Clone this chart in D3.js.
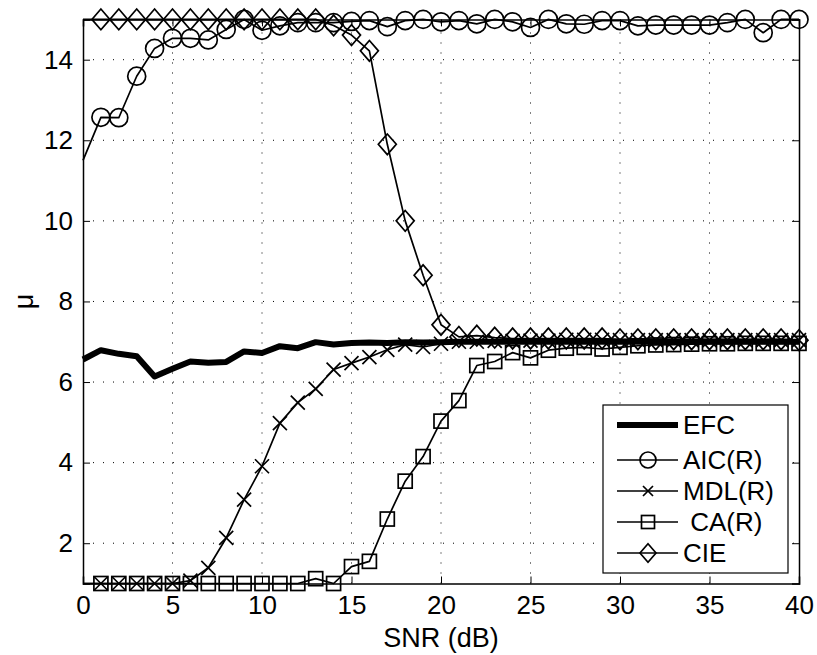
<!DOCTYPE html>
<html><head><meta charset="utf-8">
<script src="https://cdn.jsdelivr.net/npm/d3@7"></script>
<style>body{margin:0;background:#fff;} text{font-family:"Liberation Sans",Arial,sans-serif;}</style>
</head><body>
<svg id="c" width="817" height="655"></svg>
<script>
const snr = d3.range(0, 41);
const efc = [6.56,6.79,6.70,6.64,6.14,6.33,6.51,6.48,6.50,6.76,6.72,6.89,6.84,6.99,6.93,6.97,6.98,6.97,6.99,6.98,6.99,7.0,7.0,7.0,7.0,7.0,7.0,7.0,7.0,7.0,7.0,7.0,7.0,7.0,7.0,7.0,7.0,7.0,7.0,7.0,7.0];
const aic = [11.5,12.57,12.56,13.59,14.28,14.53,14.53,14.49,14.75,15.0,14.73,14.84,14.92,14.92,14.92,14.95,14.97,14.82,14.97,15.0,14.94,14.97,14.89,15.0,14.94,14.80,15.0,14.89,14.88,14.97,14.97,14.84,14.86,14.86,14.86,14.86,14.92,15.0,14.67,15.0,15.0];
const mdl = [1,1,1,1,1,1,1.07,1.39,2.13,3.08,3.91,4.98,5.49,5.83,6.31,6.47,6.62,6.80,6.93,6.87,6.95,7.0,7.0,7.02,7.02,7.03,7.03,7.05,7.05,7.05,7.04,7.04,7.04,7.04,7.04,7.04,7.04,7.04,7.04,7.04,7.04];
const ca = [1,1,1,1,1,1,1,1,1,1,1,1,1,1.12,1.0,1.42,1.55,2.6,3.54,4.15,5.03,5.54,6.41,6.51,6.73,6.6,6.79,6.84,6.86,6.82,6.86,6.9,6.92,6.93,6.94,6.95,6.95,6.96,6.96,6.96,6.96];
const cie = [15,15,15,15,15,15,15,15,15,15,15,15,15,15,14.85,14.61,14.22,11.9,10.0,8.65,7.42,7.12,7.15,7.1,7.08,7.08,7.08,7.08,7.08,7.08,7.06,7.06,7.06,7.06,7.06,7.06,7.06,7.06,7.06,7.06,7.04];
const xTicks = [0,5,10,15,20,25,30,35,40];
const yTicks = [2,4,6,8,10,12,14];
const legendLabels = ["EFC","AIC(R)","MDL(R)"," CA(R)","CIE"];

const svg = d3.select("#c");
const L = 83, R = 799, T = 19.4, B = 583.5;
const x = d3.scaleLinear().domain([0,40]).range([L,R]);
const y = d3.scaleLinear().domain([1,15]).range([B,T]);

// grid
const g = svg.append("g");
g.selectAll(".gx").data(xTicks.filter(d=>d>0&&d<40)).enter().append("line")
 .attr("x1",d=>x(d)).attr("x2",d=>x(d)).attr("y1",B).attr("y2",T)
 .attr("stroke","#000").attr("stroke-width",1).attr("stroke-dasharray","1,9");
g.selectAll(".gy").data(yTicks).enter().append("line")
 .attr("y1",d=>y(d)).attr("y2",d=>y(d)).attr("x1",L).attr("x2",R)
 .attr("stroke","#000").attr("stroke-width",1).attr("stroke-dasharray","1,9");

// axes
const fs = "26px";
const xa = svg.append("g").attr("transform",`translate(0,${B})`)
 .call(d3.axisBottom(x).tickValues(xTicks).tickSize(-7).tickPadding(12).tickFormat(d3.format("d")));
const xa2 = svg.append("g").attr("transform",`translate(0,${T})`)
 .call(d3.axisTop(x).tickValues(xTicks).tickSize(-7).tickFormat(""));
const ya = svg.append("g").attr("transform",`translate(${L},0)`)
 .call(d3.axisLeft(y).tickValues(yTicks).tickSize(-7).tickPadding(10).tickFormat(d3.format("d")));
const ya2 = svg.append("g").attr("transform",`translate(${R},0)`)
 .call(d3.axisRight(y).tickValues(yTicks).tickSize(-7).tickFormat(""));
[xa,xa2,ya,ya2].forEach(a=>{
  a.selectAll("path").attr("stroke","#000").attr("stroke-width",1.5);
  a.selectAll("line").attr("stroke","#000").attr("stroke-width",1);
  a.selectAll("text").attr("font-size",fs).attr("fill","#000").style("font-family","Liberation Sans, Arial, sans-serif");
});

const line = d3.line().x((d,i)=>x(snr[i])).y(d=>y(d));
const plot = svg.append("g");

function drawMarker(sel, type, s){
  if(type==="o") sel.append("circle").attr("r",s).attr("fill","none").attr("stroke","#000").attr("stroke-width",1.7);
  if(type==="s") sel.append("rect").attr("x",-s).attr("y",-s).attr("width",2*s).attr("height",2*s).attr("fill","none").attr("stroke","#000").attr("stroke-width",1.7);
  if(type==="x") sel.append("path").attr("d",`M${-s},${-s}L${s},${s}M${-s},${s}L${s},${-s}`).attr("stroke","#000").attr("stroke-width",1.7);
  if(type==="d") sel.append("path").attr("d",`M0,${-s*1.15}L${s},0L0,${s*1.15}L${-s},0Z`).attr("fill","none").attr("stroke","#000").attr("stroke-width",1.7);
}

const series = [
 {data:efc, m:null, w:6},
 {data:aic, m:"o", w:1.7, s:9},
 {data:mdl, m:"x", w:1.7, s:7},
 {data:ca, m:"s", w:1.7, s:7},
 {data:cie, m:"d", w:1.7, s:9}
];
series.forEach(sr=>{
  plot.append("path").datum(sr.data).attr("d",line).attr("fill","none").attr("stroke","#000")
   .attr("stroke-width",sr.w).attr("stroke-linejoin","round");
  if(sr.m){
    sr.data.forEach((v,i)=>{
      if(i===0) return;
      const mg = plot.append("g").attr("transform",`translate(${x(snr[i])},${y(v)})`);
      drawMarker(mg, sr.m, sr.s);
    });
  }
});

// labels
svg.append("text").attr("x",(L+R)/2).attr("y",647).attr("text-anchor","middle").attr("font-size","27px").text("SNR (dB)");
svg.append("text").attr("transform",`translate(33,${y(8)}) rotate(-90)`).attr("text-anchor","middle").attr("font-size","27px").text("μ");

// legend
const lg = svg.append("g");
lg.append("rect").attr("x",603).attr("y",405).attr("width",185).attr("height",168).attr("fill","#fff").attr("stroke","#000").attr("stroke-width",1.2);
const ly = [425,460,491,522,553];
legendLabels.forEach((lab,i)=>{
  const sr = series[i];
  lg.append("line").attr("x1",617).attr("x2",678).attr("y1",ly[i]).attr("y2",ly[i]).attr("stroke","#000").attr("stroke-width",sr.w);
  if(sr.m){ const mg = lg.append("g").attr("transform",`translate(648,${ly[i]})`); drawMarker(mg, sr.m, sr.m==="o"?8:(sr.m==="x"?5:(sr.m==="s"?6.5:8))); }
  lg.append("text").attr("x",683).attr("y",ly[i]+9).attr("font-size","26px").attr("xml:space","preserve").style("white-space","pre").text(lab);
});
</script>
</body></html>
